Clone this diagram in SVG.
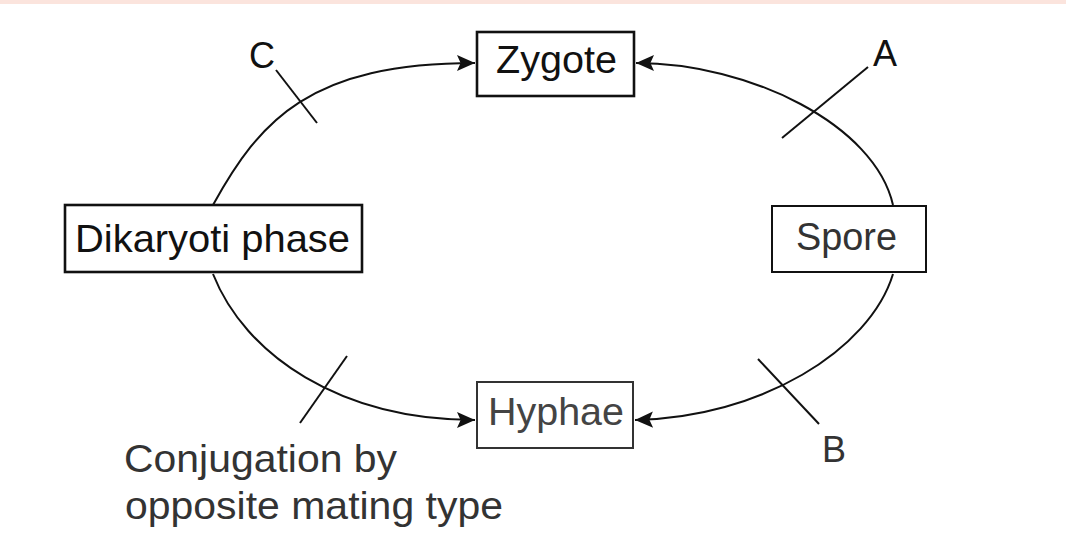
<svg xmlns="http://www.w3.org/2000/svg" width="1066" height="536" viewBox="0 0 1066 536">
<style>
.box{fill:#fff;stroke:#111;}
.lbl{font-family:"Liberation Sans",Arial,sans-serif;font-size:39px;fill:#111;}
.edge{fill:none;stroke:#111;stroke-width:2;}
.tick{stroke:#111;stroke-width:2;}
</style>
<defs>
<marker id="arr" viewBox="0 0 20 20" refX="20" refY="10" markerWidth="20" markerHeight="18" markerUnits="userSpaceOnUse" orient="auto">
<path d="M0,1 L20,10 L0,19 L4,10 z" fill="#111"/>
</marker>
</defs>
<rect x="0" y="0" width="1066" height="536" fill="#fff"/>
<rect x="0" y="0" width="1066" height="4" fill="#fbe4dd"/>
<g id="connectors">
<path class="edge" d="M213,205 C260,120 310,63 475,63" marker-end="url(#arr)"/>
<path class="edge" d="M893,205 C875,125 750,63 636,63" marker-end="url(#arr)"/>
<path class="edge" d="M213,274 C245,355 340,420 475,420" marker-end="url(#arr)"/>
<path class="edge" d="M893,274 C870,350 760,418 635,420" marker-end="url(#arr)" stroke-width="2.4"/>
</g>
<g id="ticks">
<line class="tick" x1="276" y1="70" x2="317" y2="123"/>
<line class="tick" x1="782" y1="138" x2="868" y2="67"/>
<line class="tick" x1="300" y1="423" x2="347" y2="356"/>
<line class="tick" x1="758" y1="359" x2="819" y2="424"/>
</g>
<g id="zygote">
<rect class="box" x="477" y="32" width="157" height="64" stroke-width="2.6"/>
<text class="lbl" x="496" y="73" textLength="121" lengthAdjust="spacingAndGlyphs">Zygote</text>
</g>
<g id="dikaryoti">
<rect class="box" x="65" y="205" width="297" height="67" stroke-width="2.6"/>
<text class="lbl" x="75" y="252" textLength="275" lengthAdjust="spacingAndGlyphs">Dikaryoti phase</text>
</g>
<g id="spore">
<rect class="box" x="772" y="206" width="154" height="66" stroke-width="2"/>
<text class="lbl" x="796" y="250" textLength="101" lengthAdjust="spacingAndGlyphs" style="fill:#333">Spore</text>
</g>
<g id="hyphae">
<rect class="box" x="477" y="382" width="156" height="66" stroke-width="2" style="stroke:#333"/>
<text class="lbl" x="488" y="425" textLength="136" lengthAdjust="spacingAndGlyphs" style="fill:#444">Hyphae</text>
</g>
<g id="labels">
<text class="lbl" x="249" y="68" style="font-size:36px">C</text>
<text class="lbl" x="873" y="66" style="font-size:36px">A</text>
<text class="lbl" x="822" y="462" style="font-size:36px;fill:#333">B</text>
<text class="lbl" x="124" y="472" textLength="273" lengthAdjust="spacingAndGlyphs" style="fill:#333">Conjugation by</text>
<text class="lbl" x="125" y="519" textLength="378" lengthAdjust="spacingAndGlyphs" style="fill:#333">opposite mating type</text>
</g>
</svg>
